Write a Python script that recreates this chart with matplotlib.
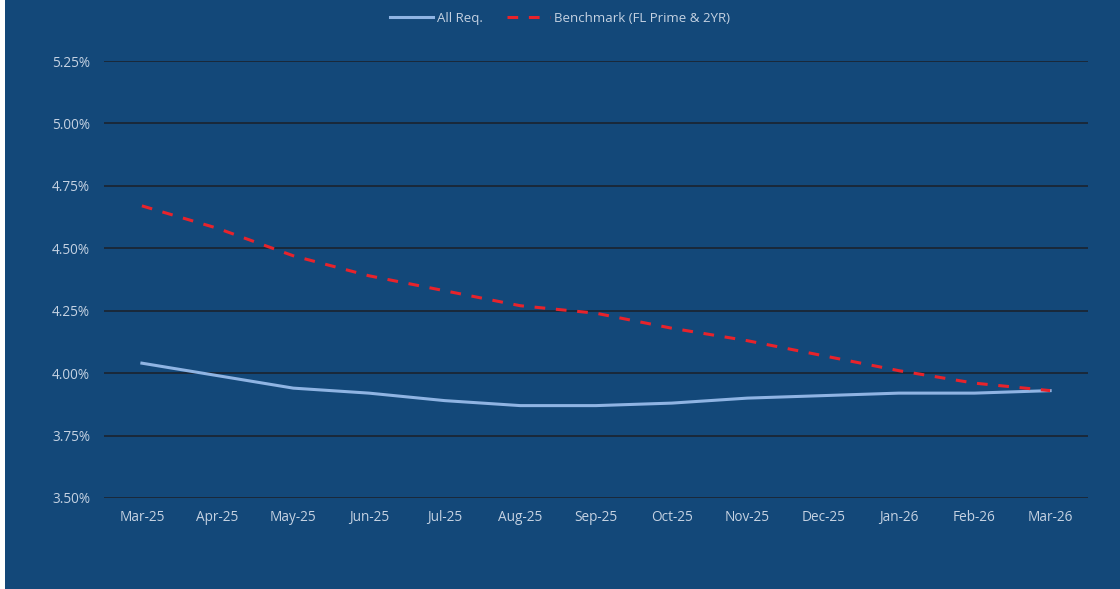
import numpy as np
import matplotlib
matplotlib.use("Agg")
import matplotlib.pyplot as plt
from matplotlib.patches import Rectangle
from matplotlib.ticker import FuncFormatter

months = ["Mar-25", "Apr-25", "May-25", "Jun-25", "Jul-25", "Aug-25", "Sep-25",
          "Oct-25", "Nov-25", "Dec-25", "Jan-26", "Feb-26", "Mar-26"]
all_req = [4.04, 3.99, 3.94, 3.92, 3.89, 3.87, 3.87, 3.88, 3.90, 3.91, 3.92, 3.92, 3.93]
benchmark = [4.67, 4.58, 4.47, 4.39, 4.33, 4.27, 4.24, 4.18, 4.13, 4.07, 4.01, 3.96, 3.93]
y_ticks = [3.50, 3.75, 4.00, 4.25, 4.50, 4.75, 5.00, 5.25]

BG = "#134879"
TXT = "#c5d2e2"

plt.rcParams.update({"font.family": ["Open Sans", "DejaVu Sans"], "font.size": 9})

fig = plt.figure(figsize=(11.2, 5.89), dpi=100, facecolor=BG)
# thin white strip on the left edge
fig.patches.append(Rectangle((0, 0), 5 / 1120, 1, transform=fig.transFigure,
                             facecolor="white", edgecolor="none"))
ax = fig.add_axes([0.0929, 0.1545, 0.8785, 0.7419])
ax.set_facecolor(BG)

x = np.arange(len(months))
ax.plot(x, all_req, color="#8fb4e3", linewidth=2.2, label="All Req.", zorder=3)
ax.plot(x, benchmark, color="#e8232b", linewidth=2.2, dashes=(3.5, 3.5),
        label="Benchmark (FL Prime & 2YR)", zorder=4)

ax.set_xlim(-0.5, len(months) - 0.5)
ax.set_ylim(3.50, 5.25)
ax.set_yticks(y_ticks)
ax.yaxis.set_major_formatter(FuncFormatter(lambda v, p: f"{v:.2f}%"))
ax.set_xticks(x)
ax.set_xticklabels(months)
ax.grid(axis="y", color="#1b2029", linewidth=1.1)
ax.set_axisbelow(True)
for s in ax.spines.values():
    s.set_visible(False)
ax.tick_params(axis="both", length=0, colors=TXT, labelsize=9.8)
ax.tick_params(axis="y", pad=10)
ax.tick_params(axis="x", pad=9)

fig.legend(loc="upper center", bbox_to_anchor=(0.5, 1.0), ncol=2, frameon=False,
           labelcolor=TXT, fontsize=9.5, handlelength=3.3, handletextpad=0.3,
           columnspacing=1.8)

fig.savefig("out.png", dpi=100, facecolor=fig.get_facecolor())
